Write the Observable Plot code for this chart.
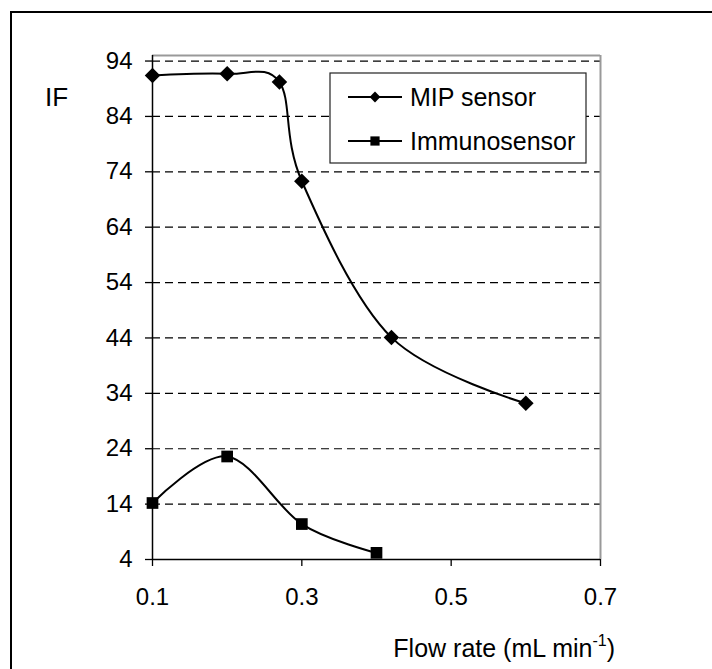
<!DOCTYPE html>
<html>
<head>
<meta charset="utf-8">
<script src="https://cdn.jsdelivr.net/npm/d3@7"></script>
<script src="https://cdn.jsdelivr.net/npm/@observablehq/plot@0.6"></script>
<style>
  html, body { margin: 0; padding: 0; background: white; overflow: hidden; }
  #wrap { position: relative; width: 712px; height: 669px; overflow: hidden; }
  #border { position: absolute; left: 10px; top: 11px; width: 800px; height: 800px; border: 2px solid black; pointer-events: none; }
  #chart { position: absolute; left: 0; top: 0; }
</style>
</head>
<body>
<div id="wrap"><div id="chart"></div><div id="border"></div></div>
<script>
// Data
const flowMIP = [0.1, 0.2, 0.27, 0.3, 0.42, 0.6];
const ifMIP = [91.4, 91.7, 90.2, 72.3, 44.1, 32.2];
const flowImmuno = [0.1, 0.2, 0.3, 0.4];
const ifImmuno = [14.2, 22.6, 10.4, 5.2];
const seriesNames = ["MIP sensor", "Immunosensor"];
const xTicks = [0.1, 0.3, 0.5, 0.7];
const yTicks = [4, 14, 24, 34, 44, 54, 64, 74, 84, 94];
const yLabel = "IF";
const xLabel = "Flow rate (mL min";
const xLabelSup = "-1";

const mip = flowMIP.map((x, i) => ({x, y: ifMIP[i]}));
const immuno = flowImmuno.map((x, i) => ({x, y: ifImmuno[i]}));

const FONT = "'Liberation Sans', Arial, Helvetica, sans-serif";

const chart = Plot.plot({
  width: 712,
  height: 669,
  marginLeft: 152,
  marginRight: 112,
  marginTop: 55,
  marginBottom: 110,
  x: {domain: [0.1, 0.7]},
  y: {domain: [4, 95]},
  style: {fontFamily: FONT, fontSize: "24px", color: "black", background: "white", overflow: "visible"},
  marks: [
    Plot.ruleY(yTicks.filter(d => d > 4), {stroke: "black", strokeWidth: 1.2, strokeDasharray: "8,5"}),
    Plot.ruleY([95], {stroke: "#999", strokeWidth: 2}),
    Plot.ruleX([0.7], {stroke: "#999", strokeWidth: 2}),
    Plot.axisX({ticks: xTicks, tickSize: 7, tickPadding: 21, tickFormat: d => d.toFixed(1), label: null, strokeWidth: 1.3}),
    Plot.axisY({ticks: yTicks, tickSize: 7, tickPadding: 13, tickFormat: d => String(d), label: null, strokeWidth: 1.3}),
    Plot.ruleX([0.1], {stroke: "black", strokeWidth: 1.5}),
    Plot.ruleY([4], {stroke: "black", strokeWidth: 1.5}),
    Plot.line(mip, {x: "x", y: "y", curve: "cardinal", tension: 0, stroke: "black", strokeWidth: 2}),
    Plot.line(immuno, {x: "x", y: "y", curve: "cardinal", tension: 0, stroke: "black", strokeWidth: 2}),
    Plot.dot(mip, {x: "x", y: "y", symbol: "diamond2", r: 7, fill: "black", stroke: "none"}),
    Plot.dot(immuno, {x: "x", y: "y", symbol: "square", r: 6.6, fill: "black", stroke: "none"})
  ]
});
document.getElementById("chart").appendChild(chart);

const svg = d3.select(chart);

// Y axis label
svg.append("text")
  .attr("x", 45).attr("y", 106)
  .attr("text-anchor", "start")
  .attr("font-family", FONT).attr("font-size", 26).attr("fill", "black")
  .text(yLabel);

// X axis label with superscript
const xt = svg.append("text")
  .attr("x", 615).attr("y", 657)
  .attr("text-anchor", "end")
  .attr("font-family", FONT).attr("font-size", 25).attr("fill", "black");
xt.append("tspan").text(xLabel);
xt.append("tspan").attr("font-size", 16).attr("dy", -11).text(xLabelSup);
xt.append("tspan").attr("dy", 11).text(")");

// Legend
const lg = svg.append("g").attr("transform", "translate(330,73)");
lg.append("rect").attr("x", 0).attr("y", 0).attr("width", 256).attr("height", 90)
  .attr("fill", "white").attr("stroke", "#222").attr("stroke-width", 1.2);
const rows = [
  {name: seriesNames[0], sym: d3.symbolDiamond2, size: 75, y: 24},
  {name: seriesNames[1], sym: d3.symbolSquare, size: 85, y: 68}
];
rows.forEach(r => {
  lg.append("line").attr("x1", 18).attr("x2", 72).attr("y1", r.y).attr("y2", r.y)
    .attr("stroke", "black").attr("stroke-width", 2);
  lg.append("path").attr("d", d3.symbol(r.sym, r.size)()).attr("transform", `translate(45,${r.y})`).attr("fill", "black");
  lg.append("text").attr("x", 80).attr("y", r.y + 9)
    .attr("text-anchor", "start")
    .attr("font-family", FONT).attr("font-size", 25).attr("fill", "black").text(r.name);
});
</script>
</body>
</html>
